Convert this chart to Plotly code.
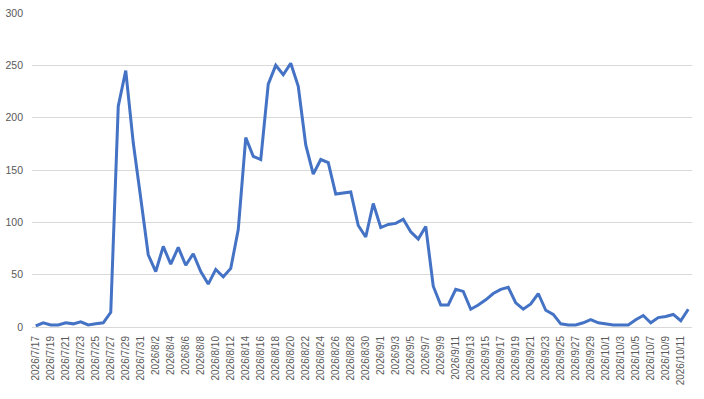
import datetime as dt
import plotly.graph_objects as go

start = dt.date(2026, 7, 17)
values = [1, 4, 2, 2, 4, 3, 5, 2, 3, 4,
          14, 211, 245, 176, 123, 69, 53, 77, 60, 76,
          59, 70, 53, 41, 55, 48, 56, 93, 181, 163,
          160, 232, 250, 241, 252, 230, 174, 146, 160, 157,
          127, 128, 129, 97, 86, 118, 95, 98, 99, 103,
          91, 84, 96, 39, 21, 21, 36, 34, 17, 21,
          26, 32, 36, 38, 23, 17, 22, 32, 16, 12,
          3, 2, 2, 4, 7, 4, 3, 2, 2, 2,
          7, 11, 4, 9, 10, 12, 6, 17]
dates = [f"{d.year}/{d.month}/{d.day}" for d in
         (start + dt.timedelta(days=i) for i in range(len(values)))]
tick_labels = dates[::2]
y_ticks = [0, 50, 100, 150, 200, 250, 300]

fig = go.Figure(go.Scatter(
    x=dates, y=values, mode="lines",
    line=dict(color="#4472C4", width=3),
))
fig.update_layout(
    width=704, height=399,
    margin=dict(l=32, r=12, t=13, b=72),
    paper_bgcolor="white", plot_bgcolor="white",
    showlegend=False,
    font=dict(family="Liberation Sans, Arial, sans-serif", size=10, color="#595959"),
)
fig.update_xaxes(
    type="category", range=[-0.5, len(values) - 0.5], automargin=False,
    tickmode="array", tickvals=tick_labels, ticktext=tick_labels,
    tickangle=-90, showgrid=False, showline=True, linecolor="#d9d9d9", linewidth=1,
    ticks="", ticklabelstandoff=4,
)
fig.update_yaxes(
    range=[0, 300], tickvals=y_ticks, showgrid=True, gridcolor="#d9d9d9",
    gridwidth=1, zeroline=False, showline=False, ticks="", ticklabelstandoff=8,
    automargin=False, tickfont=dict(size=10.5),
)
fig.write_html("out.html")
